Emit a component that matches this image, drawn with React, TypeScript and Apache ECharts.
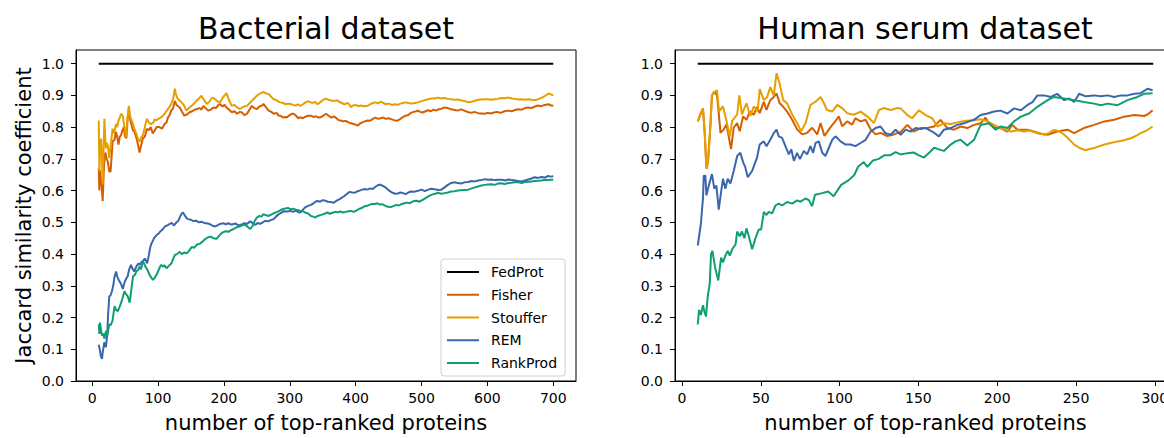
import React, { useEffect, useRef } from "react";
import * as echarts from "echarts";

type P = [number, number];

const seriesNames = ["FedProt", "Fisher", "Stouffer", "REM", "RankProd"];
const seriesColors = ["#000000", "#d55e00", "#e69f00", "#3a66ae", "#0f9e74"];
const titles = ["Bacterial dataset", "Human serum dataset"];
const xLabel = "number of top-ranked proteins";
const yLabel = "Jaccard similarity coefficient";

const bactTicksX = [0, 100, 200, 300, 400, 500, 600, 700];
const serumTicksX = [0, 50, 100, 150, 200, 250, 300];
const ticksY = [0, 0.1, 0.2, 0.3, 0.4, 0.5, 0.6, 0.7, 0.8, 0.9, 1.0];

const bactFedProt: P[] = [[10, 1], [700, 1]];
const serumFedProt: P[] = [[10, 1], [299, 1]];

const bactFisher: P[] = [[10,0.67],[11,0.60],[12,0.665],[13,0.64],[14,0.63],[16,0.567],[18,0.68],[20,0.72],[22,0.70],[24,0.69],[26,0.66],[28,0.66],[30,0.72],[31,0.755],[34,0.76],[36,0.785],[38,0.77],[40,0.745],[42,0.77],[44,0.775],[46,0.79],[48,0.80],[50,0.77],[52,0.765],[54,0.83],[56,0.857],[58,0.82],[60,0.805],[62,0.79],[64,0.785],[66,0.775],[68,0.76],[70,0.74],[72,0.72],[74,0.74],[77,0.765],[80,0.77],[83,0.795],[86,0.79],[89,0.80],[92,0.78],[95,0.79],[98,0.80],[102,0.80],[106,0.795],[110,0.81],[113,0.815],[115,0.83],[118,0.84],[120,0.852],[123,0.86],[125.5,0.883],[128,0.87],[131,0.865],[133,0.862],[136,0.85],[140,0.836],[144,0.84],[148,0.847],[152,0.85],[156,0.855],[159,0.857],[163,0.86],[166,0.855],[169,0.867],[172,0.86],[176,0.852],[180,0.855],[184,0.862],[188,0.86],[191,0.868],[194,0.873],[198,0.865],[201,0.87],[204,0.862],[208,0.855],[212,0.847],[216,0.85],[220,0.842],[224,0.848],[227,0.847],[231,0.838],[235,0.842],[239,0.855],[242.5,0.867],[246,0.86],[250,0.857],[254,0.865],[258,0.868],[260,0.873],[264,0.862],[268,0.852],[272,0.848],[275.6,0.842],[280,0.845],[283,0.836],[286,0.836],[290,0.83],[293,0.832],[296,0.831],[300,0.838],[303,0.842],[306,0.842],[310,0.835],[313,0.828],[316,0.831],[320,0.828],[324,0.833],[328,0.836],[332,0.836],[336,0.832],[340,0.834],[344,0.83],[347,0.831],[351,0.836],[355,0.842],[359,0.836],[363,0.83],[367,0.834],[371,0.828],[374,0.822],[377.4,0.821],[381,0.818],[385,0.82],[389,0.815],[393,0.812],[397,0.81],[400,0.808],[403,0.805],[406,0.81],[410,0.815],[414,0.818],[418,0.821],[422,0.82],[426,0.826],[430,0.83],[434,0.826],[438,0.828],[442,0.83],[446,0.826],[450,0.828],[454,0.825],[458,0.822],[462,0.82],[464,0.821],[468,0.826],[472,0.832],[476,0.836],[480,0.838],[484,0.845],[488,0.848],[492,0.85],[494.5,0.852],[498,0.848],[502,0.846],[506,0.85],[510,0.853],[514,0.85],[518,0.855],[522,0.852],[526,0.856],[530,0.858],[535,0.862],[540,0.86],[545,0.856],[550,0.854],[555,0.852],[560,0.856],[565,0.852],[571,0.847],[576,0.845],[580,0.848],[586,0.844],[591,0.843],[596,0.842],[600,0.845],[605,0.843],[610,0.846],[615,0.848],[620,0.845],[626,0.85],[632,0.852],[637,0.85],[642,0.854],[647,0.856],[652,0.855],[657,0.86],[662,0.862],[667,0.86],[672,0.865],[677,0.868],[682,0.866],[687,0.87],[693,0.872],[697,0.868],[700,0.867]];

const bactStouffer: P[] = [[10,0.821],[11,0.66],[12,0.72],[13.5,0.764],[15,0.70],[16,0.619],[17,0.70],[18.6,0.826],[20,0.76],[21,0.733],[22,0.75],[23.7,0.743],[25,0.72],[26,0.702],[28,0.74],[31,0.795],[33,0.78],[36.4,0.81],[38,0.80],[40,0.82],[42,0.83],[44,0.842],[46.6,0.835],[49,0.80],[51.7,0.769],[53,0.82],[55.7,0.867],[57,0.84],[59,0.826],[62,0.81],[64,0.795],[67,0.78],[70,0.76],[72,0.754],[75,0.77],[77,0.774],[80,0.80],[83,0.826],[86,0.815],[88,0.81],[90,0.81],[93,0.815],[95,0.825],[97.5,0.821],[100,0.825],[104,0.83],[107.6,0.836],[111,0.845],[115,0.857],[118,0.865],[120,0.873],[123,0.89],[125.5,0.921],[127,0.905],[129,0.893],[132,0.885],[135.7,0.878],[139,0.87],[143,0.852],[147,0.86],[151,0.867],[155,0.875],[158.6,0.883],[162,0.89],[166,0.899],[170,0.885],[174,0.873],[178,0.88],[181,0.89],[184,0.893],[188,0.885],[191,0.88],[194,0.878],[198,0.892],[201,0.9],[204,0.907],[207,0.89],[210,0.875],[212,0.867],[216,0.87],[220,0.862],[224.7,0.857],[228,0.862],[231,0.865],[235,0.867],[239,0.875],[242.5,0.883],[246,0.89],[250,0.899],[254,0.905],[257,0.908],[260,0.911],[264,0.906],[268,0.904],[272,0.895],[275.6,0.888],[280,0.885],[283,0.88],[286,0.878],[290,0.876],[294,0.872],[298,0.874],[301,0.873],[305,0.87],[309,0.868],[312,0.872],[316,0.867],[320,0.872],[324,0.878],[328,0.882],[331.6,0.878],[335,0.876],[338,0.88],[342,0.872],[346,0.878],[350,0.885],[355,0.89],[359,0.886],[363,0.884],[367,0.882],[371,0.885],[375,0.88],[379,0.876],[383,0.872],[388,0.876],[391,0.87],[393,0.863],[396,0.868],[400,0.87],[404,0.866],[408,0.868],[412,0.866],[418,0.867],[422,0.872],[426,0.876],[430,0.878],[434,0.875],[438.5,0.88],[442,0.876],[446,0.872],[450,0.874],[455,0.87],[460,0.872],[464,0.87],[468,0.874],[472,0.876],[476,0.878],[480,0.876],[485,0.874],[490,0.876],[494.5,0.878],[500,0.882],[505,0.885],[510,0.888],[515,0.89],[520,0.89],[525,0.893],[530,0.89],[535,0.892],[540,0.889],[545,0.888],[550,0.886],[556,0.887],[561,0.884],[566,0.882],[571,0.878],[576,0.88],[581,0.883],[586,0.886],[591,0.887],[596,0.888],[601,0.888],[606,0.886],[611,0.888],[616,0.889],[621,0.892],[626,0.891],[632,0.893],[637,0.89],[642,0.889],[647,0.887],[652,0.888],[657,0.886],[662,0.888],[667,0.886],[672,0.885],[677,0.888],[682,0.892],[687,0.898],[691,0.903],[694,0.906],[697,0.902],[700,0.901]];

const bactREM: P[] = [[10,0.114],[12,0.095],[13,0.08],[15,0.07],[16,0.09],[18.6,0.122],[20,0.11],[21,0.107],[23,0.15],[24,0.2],[26,0.267],[28,0.27],[30,0.283],[32,0.30],[34,0.329],[36.5,0.345],[38,0.33],[40,0.32],[41.5,0.314],[44,0.305],[46.6,0.29],[49,0.31],[51.7,0.323],[54,0.33],[56,0.35],[59,0.366],[61,0.355],[64,0.345],[67,0.36],[70,0.37],[72,0.366],[75,0.375],[78,0.38],[80,0.386],[83.5,0.371],[86,0.395],[88,0.42],[90,0.433],[94,0.45],[97.5,0.459],[101,0.465],[104,0.472],[107.6,0.479],[111,0.488],[114,0.49],[117.8,0.495],[121,0.498],[124,0.49],[128,0.50],[131,0.505],[134,0.52],[136,0.528],[138,0.531],[141,0.52],[144,0.512],[146,0.51],[150,0.508],[154,0.504],[158.6,0.505],[162,0.50],[166,0.502],[170,0.498],[173.9,0.497],[178,0.495],[182,0.49],[186.6,0.487],[190,0.49],[194,0.495],[199,0.497],[203,0.494],[207,0.497],[211,0.493],[214.6,0.495],[218,0.496],[222,0.49],[227,0.493],[231,0.497],[235,0.495],[240,0.503],[244,0.497],[248,0.492],[251,0.498],[255,0.495],[259,0.50],[263,0.505],[267,0.503],[271,0.507],[275.6,0.51],[279,0.518],[283,0.525],[287,0.53],[291,0.535],[296,0.534],[301,0.536],[305,0.533],[309,0.537],[313,0.532],[316,0.531],[320,0.54],[324,0.548],[328,0.552],[332,0.555],[336,0.56],[339,0.565],[342,0.567],[346,0.565],[350,0.57],[354,0.568],[358,0.565],[362,0.564],[367,0.562],[371,0.568],[375,0.572],[379,0.578],[383,0.583],[387,0.59],[391,0.596],[395,0.594],[398,0.593],[402,0.597],[406,0.6],[410,0.603],[414,0.605],[418,0.603],[422,0.607],[426,0.605],[430,0.612],[433,0.616],[436,0.619],[440,0.616],[444,0.612],[448,0.605],[452,0.598],[456,0.593],[460,0.59],[464,0.591],[468,0.594],[472,0.592],[476,0.589],[480,0.594],[484,0.597],[488,0.596],[492,0.598],[496,0.60],[500,0.603],[505,0.598],[510,0.603],[515,0.606],[520,0.604],[525,0.602],[530,0.603],[535,0.61],[540,0.618],[545,0.624],[550,0.626],[555,0.624],[560,0.622],[565,0.626],[571,0.627],[576,0.63],[581,0.629],[586,0.632],[591,0.633],[596,0.636],[601,0.634],[606,0.635],[611,0.633],[617,0.634],[622,0.634],[627,0.632],[632,0.635],[637,0.633],[642,0.632],[647,0.63],[652,0.629],[657,0.632],[662,0.635],[667,0.638],[672,0.642],[677,0.64],[682,0.643],[687,0.641],[692,0.646],[696,0.644],[700,0.645]];

const bactRankProd: P[] = [[10,0.179],[11,0.148],[12,0.184],[13.5,0.16],[15,0.143],[17,0.15],[18.6,0.133],[21,0.158],[23,0.143],[26,0.179],[28,0.175],[31,0.19],[34,0.236],[36,0.225],[39,0.22],[42,0.235],[44,0.247],[46,0.26],[49,0.283],[51,0.275],[54,0.267],[57,0.247],[59,0.28],[62,0.329],[65,0.335],[67,0.345],[70,0.35],[72,0.36],[74,0.352],[77,0.376],[79,0.37],[81,0.36],[84,0.35],[87.3,0.334],[90,0.325],[92.4,0.319],[95,0.325],[97.5,0.334],[100,0.345],[103,0.36],[105,0.366],[108,0.36],[110,0.365],[113,0.355],[116,0.362],[120.5,0.371],[123,0.385],[125.6,0.397],[129,0.40],[133,0.407],[136,0.40],[140,0.405],[143.5,0.402],[147,0.41],[151,0.422],[155,0.42],[159,0.43],[164,0.433],[168,0.44],[172,0.448],[176,0.453],[180,0.455],[184,0.45],[189,0.448],[193,0.458],[196,0.465],[199,0.469],[203,0.472],[207,0.47],[211,0.476],[215,0.479],[219,0.484],[223,0.487],[227,0.49],[231,0.493],[235,0.488],[240,0.479],[244,0.49],[247,0.505],[250,0.515],[254,0.52],[257,0.518],[260,0.526],[264,0.522],[268,0.52],[273,0.526],[277,0.53],[281,0.533],[285.6,0.538],[290,0.542],[294,0.544],[298,0.545],[301,0.541],[305,0.543],[309,0.54],[313,0.538],[316,0.536],[320,0.535],[324,0.53],[328,0.528],[332,0.52],[336,0.518],[339,0.515],[342,0.52],[346,0.522],[350,0.525],[354,0.528],[357,0.531],[361,0.527],[365,0.53],[369,0.533],[373,0.532],[377,0.534],[381,0.531],[385,0.533],[389,0.535],[393,0.536],[397,0.533],[401,0.537],[405,0.542],[409,0.545],[413,0.55],[417,0.552],[421,0.555],[425,0.558],[429,0.558],[433,0.56],[437,0.556],[441,0.557],[445,0.552],[449,0.549],[453,0.548],[458,0.552],[462,0.555],[466,0.553],[470,0.558],[474,0.56],[478,0.562],[482,0.56],[486,0.565],[489,0.567],[493,0.568],[497,0.565],[501,0.57],[505,0.575],[509,0.58],[513,0.585],[517,0.588],[521,0.59],[525,0.593],[530,0.59],[535,0.592],[540,0.594],[545,0.597],[550,0.598],[555,0.6],[560,0.601],[565,0.602],[571,0.603],[576,0.607],[581,0.61],[586,0.613],[591,0.616],[596,0.618],[601,0.619],[606,0.62],[611,0.618],[616,0.622],[621,0.623],[626,0.621],[632,0.624],[637,0.625],[642,0.627],[647,0.626],[652,0.624],[657,0.627],[662,0.628],[667,0.629],[672,0.63],[677,0.631],[682,0.632],[687,0.634],[692,0.633],[696,0.634],[700,0.634]];

const serumFisher: P[] = [[10,0.818],[11.6,0.839],[13.3,0.859],[14.4,0.782],[15.5,0.669],[16.5,0.69],[18,0.803],[19,0.90],[20.5,0.911],[22.2,0.90],[23.3,0.844],[24.4,0.782],[26.5,0.793],[28.2,0.808],[29.6,0.772],[31.1,0.731],[32.8,0.798],[35,0.813],[36.6,0.787],[38.8,0.834],[40.9,0.823],[43,0.849],[45.5,0.839],[47.6,0.864],[49.3,0.844],[51.9,0.88],[53.6,0.854],[56,0.885],[58.2,0.895],[60,0.906],[62,0.875],[64.2,0.864],[66.7,0.849],[69.9,0.823],[73,0.793],[76.2,0.777],[79.4,0.782],[82.6,0.798],[85.8,0.777],[87.9,0.813],[90.4,0.772],[93.2,0.793],[96.4,0.813],[99.5,0.834],[101.6,0.803],[104.8,0.818],[108,0.808],[110,0.828],[113.3,0.818],[116.5,0.823],[119.7,0.793],[122.8,0.777],[126,0.782],[130.2,0.772],[134.5,0.777],[138.7,0.785],[143,0.807],[147,0.786],[151.4,0.797],[155.6,0.797],[160,0.802],[164,0.823],[168.4,0.797],[172.6,0.792],[176.8,0.802],[181,0.797],[185.3,0.807],[189.5,0.812],[192.5,0.83],[195,0.81],[198,0.80],[202,0.797],[206.5,0.786],[209.6,0.807],[212.8,0.792],[219,0.792],[225.5,0.781],[232,0.776],[238,0.786],[244.6,0.792],[248.8,0.781],[255,0.797],[261.5,0.807],[268,0.818],[274.2,0.823],[280.6,0.833],[287,0.838],[293.3,0.835],[296,0.842],[298.6,0.853]];

const serumStouffer: P[] = [[10,0.818],[11.6,0.839],[13.3,0.859],[14.4,0.782],[15.5,0.669],[16.5,0.69],[18,0.803],[19,0.90],[20.5,0.911],[22.2,0.916],[23.5,0.85],[26,0.865],[28.2,0.82],[30.3,0.77],[31.8,0.82],[35,0.84],[36.4,0.90],[38,0.84],[40.9,0.875],[43.4,0.835],[45.5,0.865],[48,0.85],[49.3,0.92],[51.9,0.885],[54,0.895],[56,0.926],[58.2,0.90],[60,0.97],[62,0.936],[64.2,0.885],[66.7,0.875],[69.9,0.84],[73,0.813],[75.6,0.787],[78.4,0.813],[81.5,0.87],[84.7,0.88],[87.9,0.895],[89.6,0.88],[92,0.854],[95.3,0.849],[98.5,0.87],[101.6,0.86],[104.8,0.844],[109,0.839],[113.3,0.849],[117.5,0.834],[121.8,0.813],[125,0.854],[128,0.86],[132.4,0.854],[136.6,0.86],[138.7,0.859],[143,0.838],[146,0.828],[150.3,0.853],[154.6,0.838],[158.8,0.828],[162,0.802],[166.2,0.812],[170.5,0.81],[175,0.815],[180,0.82],[185,0.822],[189.5,0.825],[193.8,0.818],[198,0.807],[202,0.797],[208.6,0.786],[213,0.79],[217,0.786],[221,0.79],[225.5,0.783],[229.8,0.776],[233,0.782],[236,0.791],[239,0.788],[242.5,0.776],[245,0.765],[248.8,0.745],[252,0.735],[256,0.727],[258,0.73],[261.5,0.734],[265,0.74],[268,0.745],[272,0.75],[276.4,0.755],[280,0.758],[284.8,0.765],[288,0.772],[291,0.781],[295,0.79],[298.6,0.802]];

const serumREM: P[] = [[10,0.427],[12,0.497],[13.3,0.575],[13.8,0.647],[14.8,0.647],[15.5,0.585],[17,0.616],[19,0.652],[20.5,0.606],[21.8,0.616],[23.3,0.54],[24.8,0.596],[26,0.637],[27.5,0.606],[29,0.637],[30.7,0.622],[32.8,0.662],[35,0.709],[37,0.719],[38.8,0.689],[40.2,0.673],[41.7,0.642],[44.5,0.662],[47.6,0.704],[49.3,0.745],[51.9,0.755],[53.6,0.74],[56,0.76],[58.2,0.781],[60,0.792],[61.4,0.771],[63.5,0.766],[65.6,0.74],[67.8,0.714],[69.3,0.73],[71,0.694],[73,0.719],[74.8,0.699],[77.3,0.725],[79.4,0.714],[81.5,0.74],[83.2,0.719],[84.7,0.75],[86.8,0.755],[89,0.719],[91,0.709],[93.2,0.735],[95.3,0.76],[97.4,0.771],[100.6,0.755],[103.8,0.745],[107,0.745],[110,0.74],[113.3,0.75],[116.5,0.76],[119.7,0.786],[122.8,0.797],[126,0.802],[129,0.781],[132.4,0.776],[135.5,0.792],[138.7,0.776],[142,0.792],[145,0.786],[148.2,0.797],[151.4,0.794],[154.6,0.797],[158.8,0.786],[163,0.771],[166.2,0.792],[170.5,0.797],[174.7,0.807],[179,0.812],[182.1,0.818],[185.3,0.823],[189.5,0.838],[193.8,0.843],[198,0.849],[202,0.852],[206.5,0.843],[210.7,0.859],[215,0.853],[219,0.869],[222.4,0.879],[225.5,0.9],[229.8,0.9],[234,0.895],[238,0.905],[242.5,0.885],[245.7,0.89],[248.8,0.879],[252,0.905],[256.2,0.897],[261.5,0.9],[265.8,0.897],[270,0.9],[274.2,0.895],[278.5,0.9],[282.7,0.9],[287,0.905],[291,0.907],[295.4,0.921],[298.6,0.916]];

const serumRankProd: P[] = [[10,0.178],[10.8,0.224],[12,0.208],[13.3,0.239],[14.2,0.219],[15.2,0.203],[16.3,0.265],[17.6,0.307],[18.4,0.40],[19.3,0.41],[21,0.358],[23,0.317],[24.8,0.389],[26,0.374],[27.5,0.395],[29,0.41],[30.3,0.395],[31.8,0.415],[34,0.431],[35,0.471],[36.6,0.456],[38,0.471],[39.6,0.45],[40.9,0.481],[42.4,0.456],[44.5,0.415],[46.6,0.45],[48.7,0.477],[50.2,0.477],[51.9,0.533],[53.6,0.523],[55,0.533],[57.2,0.528],[59.3,0.553],[61.4,0.559],[63.5,0.553],[66.7,0.564],[69.9,0.559],[73,0.569],[75.2,0.565],[78.4,0.575],[80.5,0.57],[82.5,0.551],[84.4,0.587],[89,0.592],[92.7,0.597],[96.2,0.582],[101,0.618],[105.8,0.633],[109.3,0.649],[111.7,0.675],[115.3,0.69],[117.6,0.675],[121.2,0.695],[124.8,0.70],[128.3,0.711],[132,0.711],[135.5,0.721],[138.7,0.714],[143,0.718],[147,0.72],[150,0.712],[153.5,0.704],[157,0.72],[160,0.735],[163,0.73],[166.2,0.725],[170.5,0.745],[173.5,0.755],[176.8,0.76],[181,0.742],[185.3,0.76],[187.5,0.785],[189.5,0.807],[194.8,0.812],[199,0.792],[202,0.802],[206.5,0.797],[210.7,0.818],[215,0.833],[220.2,0.843],[225.5,0.864],[232,0.885],[236,0.895],[242.5,0.89],[248.8,0.885],[255,0.879],[261.5,0.874],[265.8,0.869],[270,0.874],[276.4,0.869],[282.7,0.885],[289,0.895],[293.3,0.905],[298.6,0.907]];

const bactData = [bactFedProt, bactFisher, bactStouffer, bactREM, bactRankProd];
const serumData = [serumFedProt, serumFisher, serumStouffer, serumREM, serumRankProd];

const FONT = "'DejaVu Sans', sans-serif";

function makeXAxis(gridIndex: number, min: number, max: number, ticks: number[]) {
  return {
    type: "value",
    gridIndex,
    min,
    max,
    name: xLabel,
    nameLocation: "middle",
    nameGap: 31,
    nameTextStyle: { fontSize: 21, color: "#000", fontFamily: FONT },
    axisLine: { show: true, onZero: false, lineStyle: { color: "#000", width: 1 } },
    axisTick: { show: true, length: 5, lineStyle: { color: "#000", width: 1 }, customValues: ticks },
    axisLabel: { fontSize: 14, color: "#000", fontFamily: FONT, margin: 10, customValues: ticks, formatter: (v: number) => String(Math.round(v)) },
    splitLine: { show: false },
  };
}

function makeYAxis(gridIndex: number, withName: boolean) {
  return {
    type: "value",
    gridIndex,
    min: 0,
    max: 1.043,
    name: withName ? yLabel : "",
    nameLocation: "middle",
    nameGap: 42,
    nameTextStyle: { fontSize: 21, color: "#000", fontFamily: FONT },
    axisLine: { show: true, onZero: false, lineStyle: { color: "#000", width: 1 } },
    axisTick: { show: true, length: 5, lineStyle: { color: "#000", width: 1 }, customValues: ticksY },
    axisLabel: { fontSize: 14, color: "#000", fontFamily: FONT, margin: 12, customValues: ticksY, formatter: (v: number) => v.toFixed(1) },
    splitLine: { show: false },
  };
}

export default function App() {
  const ref = useRef<HTMLDivElement>(null);
  useEffect(() => {
    if (!ref.current) return;
    const chart = echarts.init(ref.current, undefined, { renderer: "svg" });
    const series: any[] = [];
    [bactData, serumData].forEach((group, gi) => {
      group.forEach((d, i) => {
        series.push({
          type: "line",
          name: seriesNames[i],
          xAxisIndex: gi,
          yAxisIndex: gi,
          data: d,
          showSymbol: false,
          symbol: "none",
          color: seriesColors[i],
          lineStyle: { width: 2, color: seriesColors[i] },
          z: 2 + i,
        });
      });
    });
    chart.setOption({
      animation: false,
      backgroundColor: "#fff",
      grid: [
        { left: 76, top: 50, width: 500, height: 336, show: true, borderColor: "#000", borderWidth: 1, backgroundColor: "transparent", containLabel: false },
        { left: 675, top: 50, width: 501, height: 336, show: true, borderColor: "#000", borderWidth: 1, backgroundColor: "transparent", containLabel: false },
      ],
      xAxis: [makeXAxis(0, -24.5, 734.5, bactTicksX), makeXAxis(1, -4.45, 313.45, serumTicksX)],
      yAxis: [makeYAxis(0, true), makeYAxis(1, false)],
      legend: {
        data: seriesNames,
        orient: "vertical",
        left: 441,
        top: 259,
        icon: "rect",
        itemWidth: 32,
        itemHeight: 2,
        itemGap: 8.75,
        selectedMode: false,
        backgroundColor: "rgba(255,255,255,0.85)",
        borderColor: "#d0d0d0",
        borderWidth: 1,
        borderRadius: 3,
        padding: [6, 8, 6, 6],
        textStyle: { fontSize: 14, color: "#000", fontFamily: FONT, lineHeight: 14, padding: [0, 0, 0, 7] },
      },
      graphic: [
        { type: "text", x: 326, y: 28, style: { text: titles[0], fill: "#000", font: `30px ${FONT}`, textAlign: "center", textVerticalAlign: "middle" } },
        { type: "text", x: 925, y: 28, style: { text: titles[1], fill: "#000", font: `30px ${FONT}`, textAlign: "center", textVerticalAlign: "middle" } },
      ],
      series,
    });
    return () => chart.dispose();
  }, []);
  return (
    <div style={{ position: "absolute", left: 0, top: 0, width: 1164, height: 438, overflow: "hidden" }}>
      <div ref={ref} style={{ position: "absolute", left: 0, top: 0, width: 1200, height: 438 }} />
    </div>
  );
}
